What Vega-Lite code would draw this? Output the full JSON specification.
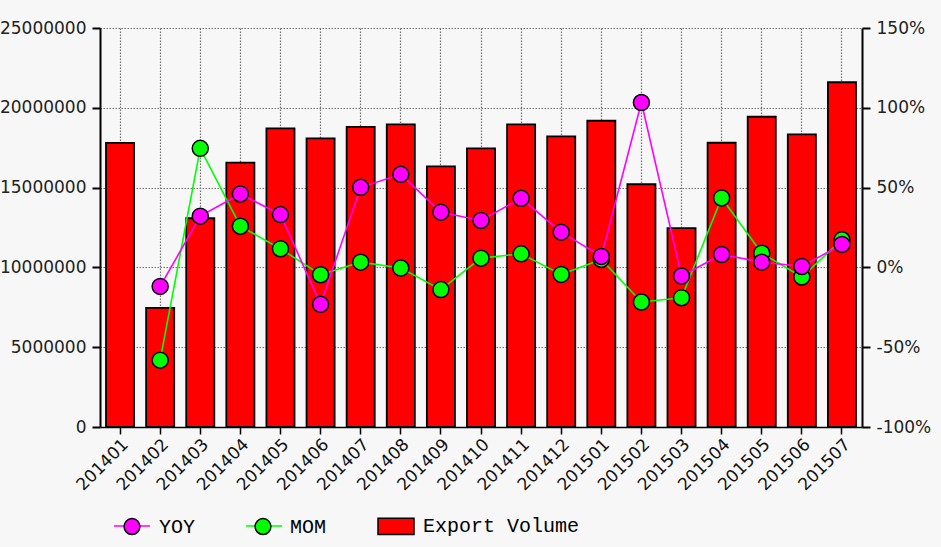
{
  "$schema": "https://vega.github.io/schema/vega-lite/v6.json",
  "autosize": {"type": "none"},
  "width": 762,
  "height": 399,
  "padding": {"left": 100, "top": 28, "right": 79, "bottom": 120},
  "background": "#f7f7f7",
  "config": {
    "view": {"stroke": null},
    "axis": {"labelFont": "DejaVu Sans", "labelColor": "#222", "domainColor": "#000", "tickColor": "#000"}
  },
  "datasets": {
    "bars": [
      {"month": "201401", "volume": 17800000},
      {"month": "201402", "volume": 7460000},
      {"month": "201403", "volume": 13080000},
      {"month": "201404", "volume": 16560000},
      {"month": "201405", "volume": 18710000},
      {"month": "201406", "volume": 18080000},
      {"month": "201407", "volume": 18810000},
      {"month": "201408", "volume": 18960000},
      {"month": "201409", "volume": 16330000},
      {"month": "201410", "volume": 17460000},
      {"month": "201411", "volume": 18960000},
      {"month": "201412", "volume": 18210000},
      {"month": "201501", "volume": 19190000},
      {"month": "201502", "volume": 15210000},
      {"month": "201503", "volume": 12460000},
      {"month": "201504", "volume": 17810000},
      {"month": "201505", "volume": 19440000},
      {"month": "201506", "volume": 18330000},
      {"month": "201507", "volume": 21600000}
    ],
    "rates": [
      {"month": "201402", "series": "MOM", "value": -58.1},
      {"month": "201403", "series": "MOM", "value": 74.6},
      {"month": "201404", "series": "MOM", "value": 25.8},
      {"month": "201405", "series": "MOM", "value": 11.7},
      {"month": "201406", "series": "MOM", "value": -4.6},
      {"month": "201407", "series": "MOM", "value": 3.3},
      {"month": "201408", "series": "MOM", "value": -0.4},
      {"month": "201409", "series": "MOM", "value": -13.9},
      {"month": "201410", "series": "MOM", "value": 5.8},
      {"month": "201411", "series": "MOM", "value": 8.5},
      {"month": "201412", "series": "MOM", "value": -4.4},
      {"month": "201501", "series": "MOM", "value": 5.0},
      {"month": "201502", "series": "MOM", "value": -21.7},
      {"month": "201503", "series": "MOM", "value": -19.0},
      {"month": "201504", "series": "MOM", "value": 43.5},
      {"month": "201505", "series": "MOM", "value": 8.9},
      {"month": "201506", "series": "MOM", "value": -6.0},
      {"month": "201507", "series": "MOM", "value": 17.3},
      {"month": "201402", "series": "YOY", "value": -11.9},
      {"month": "201403", "series": "YOY", "value": 32.1},
      {"month": "201404", "series": "YOY", "value": 46.0},
      {"month": "201405", "series": "YOY", "value": 33.1},
      {"month": "201406", "series": "YOY", "value": -23.1},
      {"month": "201407", "series": "YOY", "value": 50.2},
      {"month": "201408", "series": "YOY", "value": 58.3},
      {"month": "201409", "series": "YOY", "value": 34.6},
      {"month": "201410", "series": "YOY", "value": 29.4},
      {"month": "201411", "series": "YOY", "value": 43.3},
      {"month": "201412", "series": "YOY", "value": 22.1},
      {"month": "201501", "series": "YOY", "value": 6.9},
      {"month": "201502", "series": "YOY", "value": 103.3},
      {"month": "201503", "series": "YOY", "value": -5.4},
      {"month": "201504", "series": "YOY", "value": 8.1},
      {"month": "201505", "series": "YOY", "value": 3.3},
      {"month": "201506", "series": "YOY", "value": 0.6},
      {"month": "201507", "series": "YOY", "value": 14.4}
    ]
  },
  "encoding": {
    "x": {
      "field": "month",
      "type": "nominal",
      "scale": {"paddingInner": 0.3, "paddingOuter": 0.15},
      "axis": {
        "title": null,
        "bandPosition": 0.5,
        "labelAngle": -45,
        "labelFontSize": 17,
        "labelColor": "#111",
        "domainWidth": 1.5,
        "tickSize": 7,
        "tickWidth": 1.5,
        "labelPadding": 2,
        "grid": true,
        "gridColor": "#707070",
        "gridDash": [1.5, 1.5],
        "gridWidth": 1.2
      }
    }
  },
  "layer": [
    {
      "data": {"name": "bars"},
      "mark": {"type": "bar", "stroke": "#000", "strokeWidth": 1.8},
      "encoding": {
        "y": {
          "field": "volume",
          "type": "quantitative",
          "scale": {"domain": [0, 25000000], "nice": false},
          "axis": {
            "title": null,
            "orient": "left",
            "values": [0, 5000000, 10000000, 15000000, 20000000, 25000000],
            "format": "d",
            "labelFontSize": 17,
            "labelPadding": 6,
            "tickSize": 8,
            "tickWidth": 2,
            "domainWidth": 2,
            "grid": true,
            "gridColor": "#707070",
            "gridDash": [1.5, 1.5],
            "gridWidth": 1.2
          }
        },
        "fill": {
          "datum": "Export Volume",
          "type": "nominal",
          "title": null,
          "scale": {"domain": ["YOY", "MOM", "Export Volume"], "range": ["#ff00ff", "#00ff00", "#ff0000"]},
          "legend": {
            "title": null,
            "orient": "none",
            "legendX": 13,
            "legendY": 479,
            "direction": "horizontal",
            "padding": 0,
            "symbolOffset": 0,
            "labelOffset": 8,
            "columnPadding": 48,
            "symbolSize": 1296,
            "symbolStrokeColor": "#000",
            "symbolStrokeWidth": 1.5,
            "symbolOpacity": 1,
            "labelFont": "Liberation Mono",
            "labelFontSize": 20,
            "labelColor": "#000",
            "zindex": 2,
            "encoding": {
              "symbols": {
                "shape": {"value": {"expr": "datum.value === 'Export Volume' ? 'M-1,-0.45H1V0.45H-1Z' : 'M-0.44,0A0.44,0.44,0,1,0,0.44,0A0.44,0.44,0,1,0,-0.44,0Z'"}}
              }
            }
          }
        }
      }
    },
    {
      "data": {"name": "rates"},
      "encoding": {
        "y": {
          "field": "value",
          "type": "quantitative",
          "scale": {"domain": [-100, 150], "nice": false},
          "axis": {
            "title": null,
            "orient": "right",
            "values": [-100, -50, 0, 50, 100, 150],
            "labelExpr": "datum.value + '%'",
            "labelFontSize": 17,
            "labelPadding": 6,
            "tickSize": 8,
            "tickWidth": 2,
            "domainWidth": 2,
            "grid": false
          }
        }
      },
      "layer": [
        {
          "mark": {"type": "line", "strokeWidth": 1.6},
          "encoding": {
            "stroke": {
              "field": "series",
              "type": "nominal",
              "title": null,
              "scale": {"domain": ["YOY", "MOM", "Export Volume "], "range": ["#ff00ff", "#00ff00", "rgba(0,0,0,0)"]},
              "legend": {
                "title": null,
                "orient": "none",
                "legendX": 13,
                "legendY": 479,
                "direction": "horizontal",
                "padding": 0,
                "symbolOffset": 0,
                "labelOffset": 8,
                "columnPadding": 84,
                "symbolType": "stroke",
                "symbolSize": 1296,
                "symbolStrokeWidth": 1.5,
                "labelFont": "Liberation Mono",
                "labelFontSize": 20,
                "labelExpr": "''",
                "zindex": 1
              }
            }
          }
        },
        {
          "mark": {"type": "point", "filled": true, "shape": "circle", "size": 256, "stroke": "#000", "strokeWidth": 1.5, "opacity": 1},
          "encoding": {
            "fill": {
              "field": "series",
              "type": "nominal",
              "title": null,
              "legend": {
                "title": null,
                "orient": "none",
                "legendX": 13,
                "legendY": 479,
                "direction": "horizontal",
                "padding": 0,
                "symbolOffset": 0,
                "labelOffset": 8,
                "columnPadding": 48,
                "symbolSize": 1296,
                "symbolStrokeColor": "#000",
                "symbolStrokeWidth": 1.5,
                "symbolOpacity": 1,
                "labelFont": "Liberation Mono",
                "labelFontSize": 20,
                "labelColor": "#000",
                "zindex": 2,
                "encoding": {
                  "symbols": {
                    "shape": {"value": {"expr": "datum.value === 'Export Volume' ? 'M-1,-0.45H1V0.45H-1Z' : 'M-0.44,0A0.44,0.44,0,1,0,0.44,0A0.44,0.44,0,1,0,-0.44,0Z'"}}
                  }
                }
              }
            }
          }
        }
      ]
    }
  ],
  "resolve": {"scale": {"y": "independent"}}
}
